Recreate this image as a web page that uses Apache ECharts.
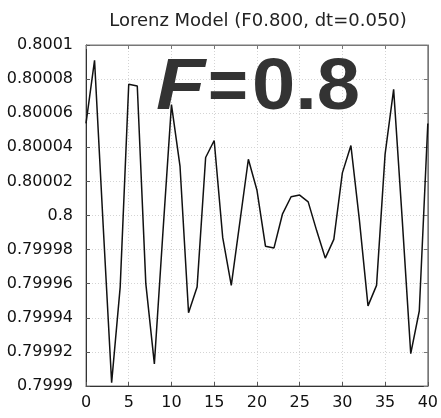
<!DOCTYPE html>
<html>
<head>
<meta charset="utf-8">
<script src="https://cdn.jsdelivr.net/npm/echarts@6/dist/echarts.min.js"></script>
<style>html,body{margin:0;padding:0;background:#fff;}#c{width:441px;height:418px;}</style>
</head>
<body>
<div id="c"></div>
<script>
const titleText = "Lorenz Model (F0.800, dt=0.050)";
const annoF = "F";
const annoEq = "=";
const annoVal = "0.8";
const steps = [0,1,2,3,4,5,6,7,8,9,10,11,12,13,14,15,16,17,18,19,20,21,22,23,24,25,26,27,28,29,30,31,32,33,34,35,36,37,38,39,40];
const values = [0.800054,0.800091,0.799995,0.799902,0.799958,0.800077,0.800076,0.79996,0.799913,0.79999,
  0.800065,0.800029,0.799943,0.799958,0.800034,0.800044,0.799987,0.799959,0.799996,0.800033,
  0.800015,0.799982,0.799981,0.800001,0.800011,0.800012,0.800008,0.799991,0.799975,0.799986,
  0.800025,0.800041,0.799997,0.799947,0.799959,0.800036,0.800074,0.799998,0.799919,0.799944,0.800054];
const yMin = 0.7999, yMax = 0.8001, yStep = 0.00002;
const xMin = 0, xMax = 40, xStep = 5;

const chart = echarts.init(document.getElementById('c'), null, {renderer:'canvas'});
const fmtY = v => String(parseFloat(Number(v).toFixed(6)));
const font = 'DejaVu Sans';
const gridLine = {show:true, lineStyle:{color:'#d4d4d4', type:[1,2], width:1}};
const big = (text, x, italic, sx) => ({type:'text', x:x, y:53, scaleX:sx, scaleY:1, z:10,
  style:{text:text, x:0, y:0, fontFamily:'Liberation Sans', fontWeight:'bold', fontStyle: italic ? 'italic' : 'normal',
    fontSize:72, fill:'#333', verticalAlign:'top', align:'left'}});
chart.setOption({
  animation:false,
  backgroundColor:'#fff',
  title:{text:titleText, left:253, top:7, textAlign:'center',
    textStyle:{fontFamily:font, fontSize:18, fontWeight:'normal', color:'#222'}},
  grid:{left:86, right:13, top:45, bottom:32, show:true, borderColor:'#777', borderWidth:1},
  xAxis:[{type:'value', min:xMin, max:xMax, interval:xStep,
    axisLine:{show:true, onZero:false, lineStyle:{color:'#333', width:1}},
    axisTick:{show:true, inside:true, length:4, lineStyle:{color:'#555'}},
    axisLabel:{fontFamily:font, fontSize:16, color:'#111', margin:9},
    splitLine:gridLine},
    {type:'value', position:'top', min:xMin, max:xMax, interval:xStep,
    axisLine:{show:true, onZero:false, lineStyle:{color:'#777'}},
    axisTick:{show:true, inside:true, length:4, lineStyle:{color:'#777'}},
    axisLabel:{show:false}, splitLine:{show:false}}],
  yAxis:[{type:'value', min:yMin, max:yMax, interval:yStep,
    axisLine:{show:true, onZero:false, lineStyle:{color:'#333', width:1}},
    axisTick:{show:true, inside:true, length:4, lineStyle:{color:'#555'}},
    axisLabel:{fontFamily:font, fontSize:16, color:'#111', margin:13, formatter:fmtY},
    splitLine:gridLine},
    {type:'value', position:'right', min:yMin, max:yMax, interval:yStep,
    axisLine:{show:true, onZero:false, lineStyle:{color:'#777'}},
    axisTick:{show:true, inside:true, length:4, lineStyle:{color:'#777'}},
    axisLabel:{show:false}, splitLine:{show:false}}],
  series:[{type:'line', data:steps.map((s,i)=>[s, values[i]]), showSymbol:false,
    lineStyle:{color:'#111', width:1.5}, z:2}],
  graphic:[big(annoF, 156, true, 1.12), big(annoEq, 208, false, 0.95), big(annoVal, 252, false, 1.08)]
});
</script>
</body>
</html>
